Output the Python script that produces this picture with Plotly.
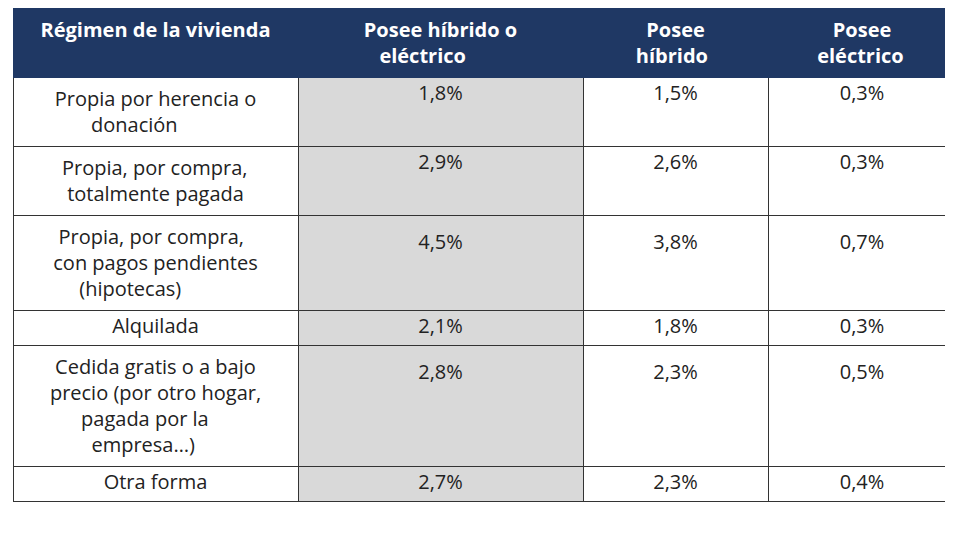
import plotly.graph_objects as go

headers = ["<b>Régimen de la vivienda</b>", "<b>Posee híbrido o<br>eléctrico</b>", "<b>Posee<br>híbrido</b>", "<b>Posee<br>eléctrico</b>"]
regimen = ["Propia por herencia o<br>donación", "Propia, por compra,<br>totalmente pagada",
           "Propia, por compra,<br>con pagos pendientes<br>(hipotecas)", "Alquilada",
           "Cedida gratis o a bajo<br>precio (por otro hogar,<br>pagada por la<br>empresa…)", "Otra forma"]
hib_o_elec = ["1,8%", "2,9%", "4,5%", "2,1%", "2,8%", "2,7%"]
hibrido = ["1,5%", "2,6%", "3,8%", "1,8%", "2,3%", "2,3%"]
electrico = ["0,3%", "0,3%", "0,7%", "0,3%", "0,5%", "0,4%"]

NB = "\u00a0"

def center_lines(s):
    lines = s.split("<br>")
    m = max(len(l) for l in lines)
    out = []
    for l in lines:
        p = int(round((m - len(l)) * 0.55))
        out.append(NB * p + l + NB * p)
    return "<br>".join(out)

def vcenter(vals):
    res = []
    for r, v in zip(regimen, vals):
        k = r.count("<br>") + 1
        res.append("<br>" * ((k - 1) // 2) + v)
    return res

left = [center_lines(r) for r in regimen]
hdr = [center_lines(h) for h in headers]

n = len(regimen)
fig = go.Figure(go.Table(
    columnwidth=[285, 285, 185, 188],
    header=dict(values=hdr, fill_color="#1F3864", line=dict(color="#1F3864", width=1),
                font=dict(color="white", size=20, family="Open Sans"), align="center", height=35),
    cells=dict(values=[left, vcenter(hib_o_elec), vcenter(hibrido), vcenter(electrico)],
               fill_color=[["white"]*n, ["#D9D9D9"]*n, ["white"]*n, ["white"]*n],
               line=dict(color="#333333", width=1),
               font=dict(color="#222222", size=20, family="Open Sans"), align="center", height=35),
))
fig.update_layout(width=953, height=540, margin=dict(l=5, r=5, t=0, b=0), paper_bgcolor="white")
fig.write_html("out.html")
